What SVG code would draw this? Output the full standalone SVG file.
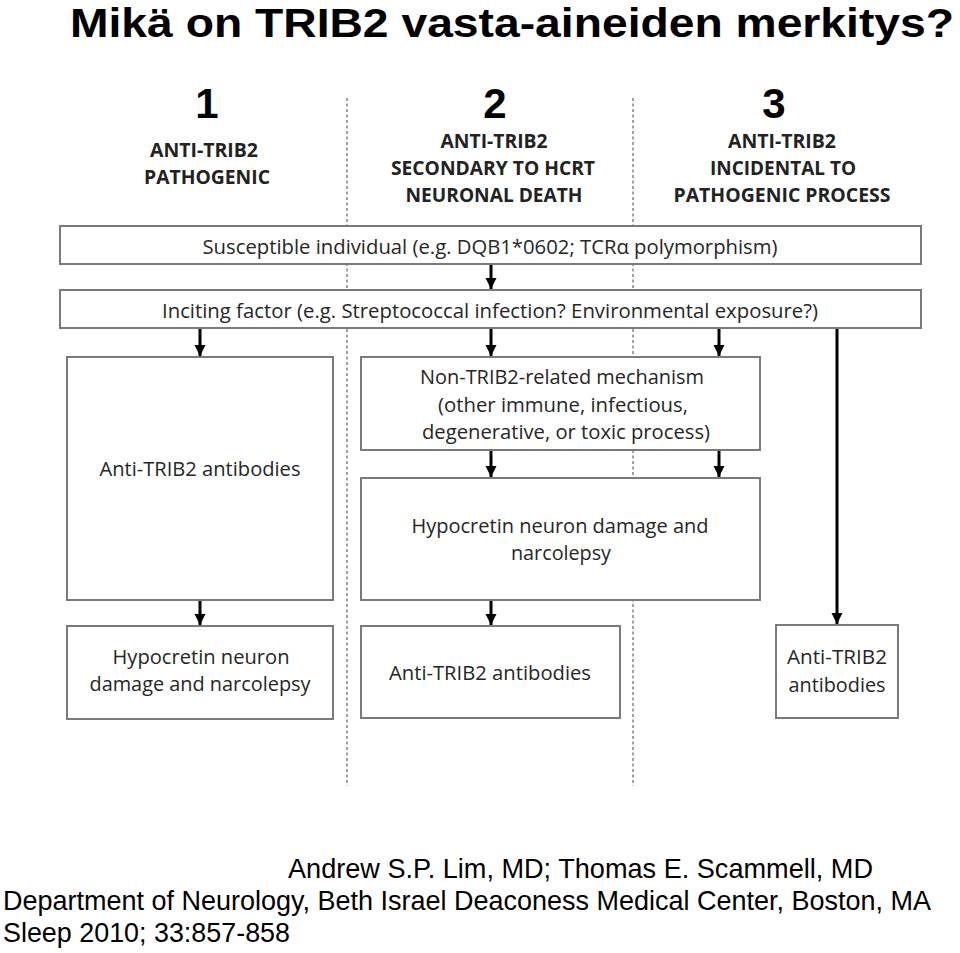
<svg xmlns="http://www.w3.org/2000/svg" width="960" height="953" viewBox="0 0 960 953">
<style>
.title{font-family:"Liberation Sans",Arial,sans-serif;font-weight:bold;font-size:40px;fill:#000}
.num{font-family:"Liberation Sans",Arial,sans-serif;font-weight:bold;font-size:42px;fill:#000;text-anchor:middle}
.hdr{font-family:"Open Sans","Liberation Sans",sans-serif;font-weight:bold;font-size:19.5px;fill:#222;text-anchor:middle}
.bt{font-family:"Open Sans","Liberation Sans",sans-serif;font-size:20px;fill:#262626;text-anchor:middle}
.box{fill:#fff;stroke:#7a7a7a;stroke-width:2}
.dash{stroke:#8a8a8a;stroke-width:1.6;stroke-dasharray:3 2.5;fill:none}
.arr{stroke:#000;stroke-width:3;fill:none;marker-end:url(#ah)}
.foot{font-family:"Liberation Sans",Arial,sans-serif;font-size:27.5px;fill:#000}
</style>
<defs>
<marker id="ah" markerUnits="userSpaceOnUse" markerWidth="12" markerHeight="12" refX="11" refY="6" orient="auto" viewBox="0 0 12 12">
<path d="M0,0.5 L11,6 L0,11.5 Z" fill="#000"/>
</marker>
</defs>
<rect width="960" height="953" fill="#fff"/>
<text class="title" x="70" y="37" textLength="884" lengthAdjust="spacingAndGlyphs">Mikä on TRIB2 vasta-aineiden merkitys?</text>
<text class="num" x="207" y="118">1</text>
<text class="num" x="495" y="118">2</text>
<text class="num" x="774" y="118">3</text>
<g id="hdr1">
<text class="hdr" x="204" y="157" textLength="108" lengthAdjust="spacingAndGlyphs">ANTI-TRIB2</text>
<text class="hdr" x="207" y="184" textLength="126" lengthAdjust="spacingAndGlyphs">PATHOGENIC</text>
</g>
<g id="hdr2">
<text class="hdr" x="494" y="148" textLength="107" lengthAdjust="spacingAndGlyphs">ANTI-TRIB2</text>
<text class="hdr" x="493" y="175" textLength="204" lengthAdjust="spacingAndGlyphs">SECONDARY TO HCRT</text>
<text class="hdr" x="494" y="202" textLength="177" lengthAdjust="spacingAndGlyphs">NEURONAL DEATH</text>
</g>
<g id="hdr3">
<text class="hdr" x="782" y="148" textLength="108" lengthAdjust="spacingAndGlyphs">ANTI-TRIB2</text>
<text class="hdr" x="783" y="175" textLength="146" lengthAdjust="spacingAndGlyphs">INCIDENTAL TO</text>
<text class="hdr" x="782" y="202" textLength="217" lengthAdjust="spacingAndGlyphs">PATHOGENIC PROCESS</text>
</g>
<g id="dividers">
<line class="dash" x1="347" y1="98" x2="347" y2="786"/>
<line class="dash" x1="633" y1="98" x2="633" y2="786"/>
</g>
<g id="connectors">
<line class="arr" x1="491" y1="265" x2="491" y2="289"/>
<line class="arr" x1="200" y1="329" x2="200" y2="356"/>
<line class="arr" x1="491" y1="329" x2="491" y2="356"/>
<line class="arr" x1="719" y1="329" x2="719" y2="356"/>
<line class="arr" x1="837" y1="329" x2="837" y2="624"/>
<line class="arr" x1="491" y1="451" x2="491" y2="477"/>
<line class="arr" x1="719" y1="451" x2="719" y2="477"/>
<line class="arr" x1="200" y1="601" x2="200" y2="625"/>
<line class="arr" x1="491" y1="601" x2="491" y2="625"/>
</g>
<g id="susceptible">
<rect class="box" x="60" y="226" width="861" height="38"/>
<text class="bt" x="490" y="254" textLength="575" lengthAdjust="spacingAndGlyphs">Susceptible individual (e.g. DQB1*0602; TCRα polymorphism)</text>
</g>
<g id="inciting">
<rect class="box" x="60" y="290" width="861" height="38"/>
<text class="bt" x="490" y="318" textLength="656" lengthAdjust="spacingAndGlyphs">Inciting factor (e.g. Streptococcal infection? Environmental exposure?)</text>
</g>
<g id="antibodies1">
<rect class="box" x="67" y="357" width="266" height="243"/>
<text class="bt" x="200" y="476" textLength="201" lengthAdjust="spacingAndGlyphs">Anti-TRIB2 antibodies</text>
</g>
<g id="nontrib2">
<rect class="box" x="361" y="357" width="399" height="93"/>
<text class="bt" x="562" y="384" textLength="284" lengthAdjust="spacingAndGlyphs">Non-TRIB2-related mechanism</text>
<text class="bt" x="563" y="412" textLength="250" lengthAdjust="spacingAndGlyphs">(other immune, infectious,</text>
<text class="bt" x="566" y="439" textLength="288" lengthAdjust="spacingAndGlyphs">degenerative, or toxic process)</text>
</g>
<g id="hypocretin2">
<rect class="box" x="361" y="478" width="399" height="122"/>
<text class="bt" x="560" y="533" textLength="297" lengthAdjust="spacingAndGlyphs">Hypocretin neuron damage and</text>
<text class="bt" x="561" y="560" textLength="100" lengthAdjust="spacingAndGlyphs">narcolepsy</text>
</g>
<g id="hypocretin1">
<rect class="box" x="67" y="626" width="266" height="93"/>
<text class="bt" x="201" y="664" textLength="177" lengthAdjust="spacingAndGlyphs">Hypocretin neuron</text>
<text class="bt" x="200" y="691" textLength="221" lengthAdjust="spacingAndGlyphs">damage and narcolepsy</text>
</g>
<g id="antibodies2">
<rect class="box" x="361" y="626" width="259" height="92"/>
<text class="bt" x="490" y="680" textLength="202" lengthAdjust="spacingAndGlyphs">Anti-TRIB2 antibodies</text>
</g>
<g id="antibodies3">
<rect class="box" x="776" y="625" width="122" height="93"/>
<text class="bt" x="837" y="664" textLength="100" lengthAdjust="spacingAndGlyphs">Anti-TRIB2</text>
<text class="bt" x="837" y="692" textLength="97" lengthAdjust="spacingAndGlyphs">antibodies</text>
</g>
<text class="foot" x="288" y="878" textLength="585" lengthAdjust="spacingAndGlyphs">Andrew S.P. Lim, MD; Thomas E. Scammell, MD</text>
<text class="foot" x="3" y="910" textLength="928" lengthAdjust="spacingAndGlyphs">Department of Neurology, Beth Israel Deaconess Medical Center, Boston, MA</text>
<text class="foot" x="3" y="942" textLength="287" lengthAdjust="spacingAndGlyphs">Sleep 2010; 33:857-858</text>
</svg>
